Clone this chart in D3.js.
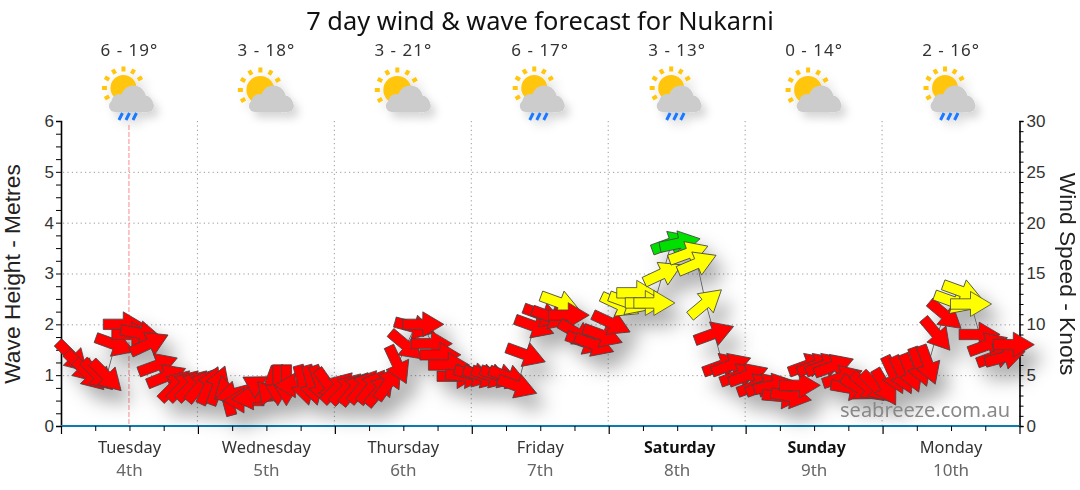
<!DOCTYPE html>
<html><head><meta charset="utf-8">
<script src="https://cdn.jsdelivr.net/npm/d3@7"></script>
<style>html,body{margin:0;padding:0;background:#fff;overflow:hidden}svg{display:block}</style>
</head><body><svg id="c" width="1080" height="490"></svg>
<script>
const title = "7 day wind & wave forecast for Nukarni";
const days = ["Tuesday","Wednesday","Thursday","Friday","Saturday","Sunday","Monday"];
const dates = ["4th","5th","6th","7th","8th","9th","10th"];
const weekend = ["Saturday","Sunday"];
const temps = ["6 - 19°","3 - 18°","3 - 21°","6 - 17°","3 - 13°","0 - 14°","2 - 16°"];
const conditions = ["rain","cloud","cloud","rain","rain","cloud","rain"];
const waveHours = [0,168];
const waveHeights = [0,0];
const nowHour = 12;
const windKnots = [6.8,5.8,5.0,5.0,4.9,8.0,10.0,9.0,9.1,8.1,6.0,4.9,4.0,4.0,4.0,4.0,4.0,4.0,3.0,3.2,2.5,2.8,3.8,3.9,4.0,4.0,4.0,4.0,4.0,4.0,3.9,3.8,3.7,3.7,3.9,3.9,3.6,4.3,6.0,7.9,9.7,10.0,8.1,7.0,6.0,4.9,4.9,5.0,4.9,4.9,4.9,4.8,3.9,7.0,9.8,10.9,10.7,12.1,10.9,9.1,8.2,8.0,8.9,10.1,11.9,12.1,13.1,12.1,12.1,15.0,18.0,18.0,17.0,16.0,12.1,9.1,6.0,6.0,5.0,5.0,4.0,4.0,4.0,2.9,2.9,4.0,6.0,6.0,6.0,5.9,4.8,3.7,3.7,3.8,3.8,3.8,5.0,5.0,5.2,5.8,6.0,9.0,10.9,12.2,13.2,12.0,9.0,8.0,6.9,6.8,8.0];
const windHeading = [135,135,135,135,135,110,90,90,100,65,70,68,45,45,45,40,25,20,345,255,270,265,300,200,180,180,270,165,165,160,145,45,45,40,40,38,40,35,155,130,105,90,90,90,90,90,95,105,107,107,108,110,110,110,110,110,110,110,90,120,110,110,110,115,115,110,90,90,90,65,70,78,70,67,50,70,70,70,70,70,70,70,78,95,100,90,70,70,70,70,72,100,120,130,135,150,155,155,158,160,160,140,130,110,110,90,90,70,70,75,90];
const windHours = windKnots.map((_,i)=>2+i*1.5);
const speedBreaks = [11,17.5];
const speedColours = ["#ff0000","#ffff00","#00e000"];

const svg = d3.select("#c");
const defs = svg.append("defs");
const f = defs.append("filter").attr("id","sh").attr("filterUnits","userSpaceOnUse")
  .attr("x",0).attr("y",0).attr("width",1080).attr("height",490);
f.append("feDropShadow").attr("dx",10).attr("dy",13).attr("stdDeviation",9)
  .attr("flood-color","#000").attr("flood-opacity",0.32);
const f2 = defs.append("filter").attr("id","sh2").attr("x","-30%").attr("y","-30%").attr("width","170%").attr("height","170%");
f2.append("feDropShadow").attr("dx",5).attr("dy",6).attr("stdDeviation",4)
  .attr("flood-color","#000").attr("flood-opacity",0.16);

const x = d3.scaleLinear().domain([0,168]).range([61,1019.5]);
const yM = d3.scaleLinear().domain([0,6]).range([426,121]);
const yK = d3.scaleLinear().domain([0,30]).range([426,121]);
const colour = d3.scaleThreshold().domain(speedBreaks).range(speedColours);
const dayCentre = i => x(12+24*i);
const UI = "'Noto Sans',sans-serif", AR = "'Liberation Sans',Arial,sans-serif";

// grid
const grid = svg.append("g").attr("stroke","#999").attr("stroke-width",1).attr("stroke-dasharray","1.2,3.2");
grid.selectAll(".h").data(d3.range(1,6)).join("line").attr("x1",x(0)+2).attr("x2",x(168)-2).attr("y1",d=>yM(d)+.5).attr("y2",d=>yM(d)+.5);
grid.selectAll(".v").data(d3.range(24,168,24)).join("line").attr("x1",d=>x(d)-.5).attr("x2",d=>x(d)-.5).attr("y1",yM(6)).attr("y2",yM(0));
svg.append("line").attr("x1",x(nowHour)-.5).attr("x2",x(nowHour)-.5).attr("y1",yM(6)+4).attr("y2",yM(0))
  .attr("stroke","#ff8a8a").attr("stroke-width",1).attr("stroke-dasharray","5,2");

// axes
function tidy(g,size,fam){g.select(".domain").attr("stroke","#000").attr("stroke-width",1.6);
  g.selectAll(".tick line").attr("stroke","#000").attr("stroke-width",1);
  g.selectAll("text").attr("font-family",fam).attr("font-size",size);}
const gl = svg.append("g").attr("transform","translate(61,0)")
  .call(d3.axisLeft(yM).tickValues(d3.range(0,6.01,0.25)).tickSize(5).tickFormat(d=>Number.isInteger(d)?d:""));
tidy(gl,17,AR); gl.selectAll("text").attr("fill","#333").attr("x",-7);
const gr = svg.append("g").attr("transform","translate(1019.5,0)")
  .call(d3.axisRight(yK).tickValues(d3.range(0,30.01,1)).tickSize(4).tickFormat(d=>d%5===0?d:""));
tidy(gr,17,AR); gr.selectAll("text").attr("fill","#333").attr("x",7);

// wave line
svg.append("path").attr("fill","none").attr("stroke","#0a7db0").attr("stroke-width",2)
  .attr("d",d3.line().x(d=>x(d[0])).y(d=>yM(d[1]))(d3.zip(waveHours,waveHeights)));
const gb = svg.append("g").attr("transform","translate(0,426)")
  .call(d3.axisBottom(x).tickValues(d3.range(0,168.1,24)).tickSize(8).tickFormat(""));
gb.select(".domain").remove(); gb.selectAll("line").attr("stroke","#000").attr("stroke-width",1.2);
const gb2 = svg.append("g").attr("transform","translate(0,426)")
  .call(d3.axisBottom(x).tickValues(d3.range(0,168.1,6).filter(d=>d%24)).tickSize(5).tickFormat(""));
gb2.select(".domain").remove(); gb2.selectAll("line").attr("stroke","#000");

// wind marks
const L=41,T=5.2,HL=21,HW=12.5;
const arrowPath = `M${-L/2},${-T}L${L/2-HL},${-T}L${L/2-HL},${-HW}L${L/2},0L${L/2-HL},${HW}L${L/2-HL},${T}L${-L/2},${T}Z`;
const wind = d3.zip(windHours,windKnots,windHeading);
const marks = svg.append("g").attr("filter","url(#sh)");
marks.append("path").attr("fill","none").attr("stroke","#666").attr("stroke-width",1)
  .attr("d",d3.line().x(d=>x(d[0])).y(d=>yK(d[1]))(wind));
marks.selectAll(".a").data(wind).join("path").attr("class","a").attr("d",arrowPath)
  .attr("transform",d=>`translate(${x(d[0])},${yK(d[1])}) rotate(${d[2]-90})`)
  .attr("fill",d=>colour(d[1])).attr("stroke","#444").attr("stroke-width",0.8);

// texts
svg.append("text").attr("x",540).attr("y",30).attr("text-anchor","middle").attr("font-family",UI).attr("font-size",25.4).attr("fill","#111").text(title);
const lab = (sel,arr,y,size,fill)=>sel.selectAll(null).data(arr).join("text").attr("x",(d,i)=>dayCentre(i)).attr("y",y)
  .attr("text-anchor","middle").attr("font-family",UI).attr("font-size",size).attr("fill",fill).text(d=>d);
lab(svg,temps,56,17,"#333").attr("letter-spacing",1);
lab(svg,days,453,16.4,"#333")
  .attr("font-weight",d=>weekend.includes(d)?"700":"400")
  .attr("font-size",d=>weekend.includes(d)?16:16.4)
  .attr("dx",d=>weekend.includes(d)?2.5:0)
  .attr("fill",d=>weekend.includes(d)?"#111":"#333");
lab(svg,dates,476,17,"#666");
svg.append("text").attr("transform","translate(20,274) rotate(-90)").attr("text-anchor","middle").attr("font-family",AR).attr("font-size",22.8).attr("fill","#222").text("Wave Height - Metres");
svg.append("text").attr("transform","translate(1060,274) rotate(90)").attr("text-anchor","middle").attr("font-family",AR).attr("font-size",22.8).attr("fill","#222").text("Wind Speed - Knots");
svg.append("text").attr("x",1010).attr("y",417).attr("text-anchor","end").attr("font-family",UI).attr("font-size",20).attr("fill","#888").text("seabreeze.com.au");

// weather icons
conditions.forEach((c,i)=>{
  const g = svg.append("g").attr("transform",`translate(${dayCentre(i)},96)`);
  const rain = c==="rain";
  const ic = g.append("g").attr("filter","url(#sh2)");
  const sx = -6, sy = rain?-8:-6, r = rain?13:14;
  ic.append("circle").attr("cx",sx).attr("cy",sy).attr("r",r).attr("fill","#ffc60a");
  ic.selectAll(".ray").data([-90,-60,-30,-120,-150,180,150]).join("rect")
    .attr("x",r+3.5).attr("y",-2).attr("width",5).attr("height",4).attr("fill","#ffc60a")
    .attr("transform",d=>`translate(${sx},${sy}) rotate(${d})`);
  const cx = rain?1:4, cy = 10;
  const cl = ic.append("g").attr("fill","#cccccc").attr("transform",`translate(${cx},${cy})`);
  cl.append("rect").attr("x",-21.5).attr("y",-6).attr("width",45).attr("height",12).attr("rx",6);
  cl.append("circle").attr("cx",-11).attr("cy",-4).attr("r",8);
  cl.append("circle").attr("cx",3).attr("cy",-8).attr("r",12.5);
  cl.append("circle").attr("cx",14).attr("cy",-2).attr("r",8.5);
  if(rain) ic.selectAll(".d").data([-9,-2,5]).join("line").attr("x1",d=>d+2).attr("x2",d=>d-1.5).attr("y1",17).attr("y2",24)
    .attr("stroke","#1a78ff").attr("stroke-width",3);
});
</script></body></html>
